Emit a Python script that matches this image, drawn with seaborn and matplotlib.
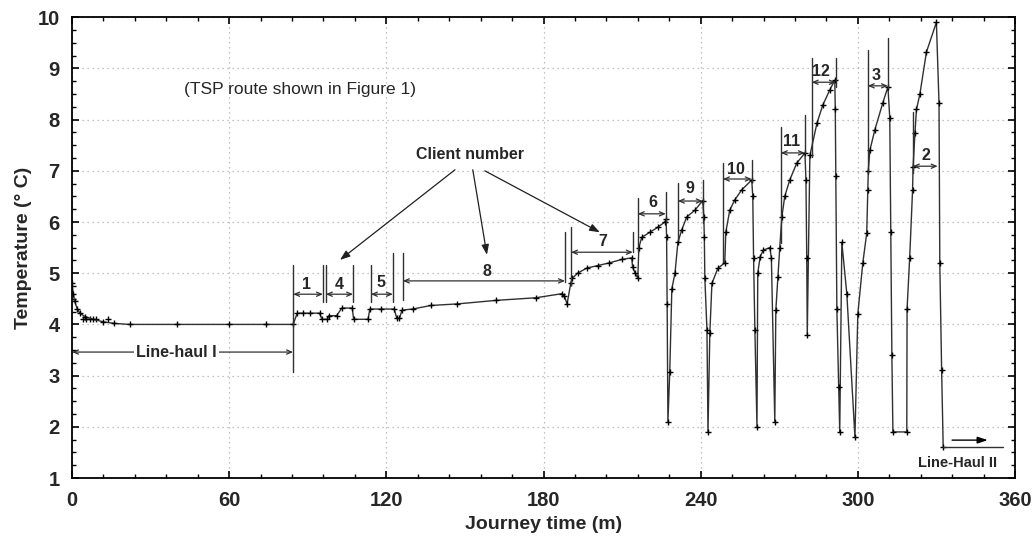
import matplotlib
matplotlib.use("Agg")
import matplotlib.pyplot as plt
from matplotlib.ticker import MultipleLocator
import seaborn as sns
import pandas as pd

# ---- data ----
time_min = [0, 0.5, 1, 2, 3, 5, 8, 12, 16, 22, 40, 60, 74, 84.4,
            86, 88, 91, 94.5, 95.4, 97.5, 98, 101, 103, 107, 107.5, 113, 113.7, 118, 123,
            124, 125, 126, 130, 137, 147, 162, 177, 187, 188, 189,
            190.4, 191, 193, 196.5, 200.8, 205, 210, 213.7, 214, 215, 216,
            216.4, 217.5, 220.6, 223.7, 226.3, 226.8,
            227.0, 227.2, 227.5,
            228.2, 229.0, 230.2, 231.3, 232.8, 234.7, 237.8, 240.8,
            241.2, 241.4, 241.6, 242.4, 242.8,
            243.5, 244.3, 246.6, 249.2, 249.6, 251.1, 253.0, 255.7, 259.5,
            259.9, 260.2, 260.7, 261.5,
            261.8, 262.7, 263.9, 266.4,
            267.0, 268.3,
            268.7, 269.5, 270.2, 271.0, 272.1, 274.0, 276.7, 279.8,
            280.2, 280.5, 280.7,
            281.7, 284.4, 286.6, 289.3, 291.2,
            291.4, 291.6, 292.0, 292.7, 293.1,
            293.9, 295.8, 298.9,
            300.0, 301.9, 303.4, 303.8, 304.0, 304.6, 306.5, 309.5, 311.5,
            312.2, 312.6, 313.0, 313.4,
            318.7,
            318.8, 319.8, 320.9, 321.1, 321.8, 322.4, 323.7, 326.2, 330.0,
            331.0, 331.3, 332.0, 332.6]
temp_c = [4.8, 4.6, 4.45, 4.3, 4.22, 4.15, 4.1, 4.05, 4.02, 4.0, 4.0, 4.0, 4.0, 4.0,
          4.22, 4.22, 4.22, 4.22, 4.1, 4.1, 4.17, 4.17, 4.32, 4.32, 4.1, 4.1, 4.3, 4.3, 4.3,
          4.12, 4.12, 4.28, 4.3, 4.37, 4.4, 4.47, 4.52, 4.6, 4.55, 4.4,
          4.8, 4.9, 5.0, 5.1, 5.15, 5.2, 5.27, 5.3, 5.12, 5.0, 4.9,
          5.5, 5.7, 5.8, 5.9, 6.0, 6.05,
          5.7, 4.4, 2.1,
          3.07, 4.7, 5.0, 5.6, 5.85, 6.1, 6.23, 6.42,
          6.1, 5.7, 4.9, 3.9, 1.9,
          3.83, 4.8, 5.1, 5.2, 5.8, 6.23, 6.43, 6.63, 6.82,
          6.5, 5.3, 3.9, 2.0,
          5.0, 5.32, 5.45, 5.5,
          5.3, 2.1,
          4.28, 4.93, 5.5, 6.1, 6.5, 6.82, 7.15, 7.35,
          6.82, 5.3, 3.8,
          7.3, 7.93, 8.28, 8.58, 8.77,
          8.2, 6.9, 4.3, 2.78, 1.9,
          5.6, 4.6, 1.8,
          4.2, 5.2, 5.78, 6.62, 7.0, 7.4, 7.8, 8.32, 8.64,
          8.03, 5.8, 3.4, 1.9,
          1.9,
          4.3, 5.3, 6.62, 7.07, 7.73, 8.2, 8.5, 9.32, 9.9,
          8.32, 5.2, 3.1, 1.6]

# stray readings off the curve near the start
stray_t = [4, 5.5, 7, 9, 13.7]
stray_T = [4.1, 4.1, 4.1, 4.1, 4.1]

# client brackets: label, left t, right t, left vertical (lo, hi), right vertical (lo, hi), arrow T, label (t, T)
client_labels = ["1", "4", "5", "8", "7", "6", "9", "10", "11", "12", "3", "2"]
left_t = [84.4, 96.9, 114.1, 126.3, 190.5, 216.0, 231.3, 248.5, 270.6, 282.4, 303.8, 321.0]
right_t = [95.8, 107.3, 122.5, 188.2, 214.1, 226.7, 240.8, 259.5, 279.8, 291.6, 311.5, 330.5]
left_lo = [4.44, 4.44, 4.44, 4.48, 4.77, 5.41, 5.65, 5.22, 5.59, 7.27, 6.96, 6.96]
left_hi = [5.16, 5.16, 5.16, 5.39, 5.90, 6.47, 6.76, 7.15, 7.85, 9.20, 9.36, 8.15]
right_lo = [4.44, 4.44, 4.44, 4.83, 5.41, 5.98, 5.98, 6.78, 7.35, 8.64, 8.62, 7.09]
right_hi = [5.16, 5.16, 5.39, 5.80, 5.80, 6.59, 6.82, 7.21, 8.09, 9.20, 9.59, 7.09]
arrow_T = [4.59, 4.59, 4.59, 4.85, 5.41, 6.16, 6.41, 6.84, 7.35, 8.73, 8.66, 7.09]
label_t = [89.6, 102.0, 117.9, 158.5, 202.8, 221.9, 235.9, 253.4, 274.7, 286.1, 307.1, 326.0]
label_T = [4.77, 4.77, 4.81, 5.03, 5.62, 6.38, 6.66, 7.03, 7.57, 8.94, 8.87, 7.29]

x_ticks = [0, 60, 120, 180, 240, 300, 360]
y_ticks = [1, 2, 3, 4, 5, 6, 7, 8, 9, 10]

df = pd.DataFrame({"Journey time (m)": time_min, "Temperature (° C)": temp_c})

sns.set_style("ticks")
plt.rcParams["font.family"] = ["Liberation Sans", "DejaVu Sans"]

fig = plt.figure(figsize=(10.32, 5.38), dpi=100)
ax = fig.add_axes([0.0698, 0.1115, 0.9137, 0.8565])

sns.lineplot(data=df, x="Journey time (m)", y="Temperature (° C)", ax=ax,
             sort=False, estimator=None, color="#303030", linewidth=1.0,
             marker="+", markersize=5, markeredgecolor="black", markeredgewidth=1.0)
sns.scatterplot(x=stray_t, y=stray_T, ax=ax, marker="+", s=25, color="black", linewidth=1.0)

ax.set_xlim(0, 360)
ax.set_ylim(1, 10)
ax.set_xticks(x_ticks)
ax.set_yticks(y_ticks)
ax.xaxis.set_minor_locator(MultipleLocator(12))
ax.yaxis.set_minor_locator(MultipleLocator(0.25))
ax.tick_params(which="both", direction="in", top=True, right=True, color="black")
ax.tick_params(which="major", length=5, width=1.2, labelsize=14.5, pad=9)
ax.tick_params(which="minor", length=3, width=1.0)
for lab in ax.get_xticklabels() + ax.get_yticklabels():
    lab.set_fontweight("bold")
ax.grid(True, which="major", linestyle=(0, (1, 3)), color="#b0b0b0", linewidth=0.9)
for sp in ax.spines.values():
    sp.set_linewidth(1.3)
    sp.set_color("black")

ax.set_xlabel("Journey time (m)", fontsize=14, fontweight="bold", labelpad=5)
ax.set_ylabel("Temperature (° C)", fontsize=14, fontweight="bold", labelpad=4)

lc = "#303030"
arrow_kw = dict(arrowstyle="<->,head_length=0.35,head_width=0.15", color=lc, lw=0.9,
                shrinkA=0, shrinkB=0)

# Line-haul I
ax.annotate("", xy=(0, 3.46), xytext=(84.4, 3.46), arrowprops=arrow_kw)
ax.plot([84.4, 84.4], [3.07, 4.44], color=lc, lw=1.0)
ax.text(40, 3.46, "Line-haul I", ha="center", va="center", fontsize=11.5,
        fontweight="bold", bbox=dict(facecolor="white", edgecolor="none", pad=1.5))

# client brackets
for i, lab in enumerate(client_labels):
    ax.plot([left_t[i], left_t[i]], [left_lo[i], left_hi[i]], color=lc, lw=1.0)
    ax.plot([right_t[i], right_t[i]], [right_lo[i], right_hi[i]], color=lc, lw=1.0)
    ax.annotate("", xy=(left_t[i], arrow_T[i]), xytext=(right_t[i], arrow_T[i]),
                arrowprops=arrow_kw)
    ax.text(label_t[i], label_T[i], lab, ha="center", va="center",
            fontsize=11.5, fontweight="bold")

# Line-Haul II
ax.plot([332.6, 355.3], [1.6, 1.6], color=lc, lw=1.0)
ax.annotate("", xy=(349.6, 1.74), xytext=(336.0, 1.74),
            arrowprops=dict(arrowstyle="-|>,head_length=0.6,head_width=0.2", color="black",
                            lw=1.0, shrinkA=0, shrinkB=0))
ax.text(338, 1.29, "Line-Haul II", ha="center", va="center", fontsize=10.5, fontweight="bold")

# free texts
ax.text(87, 8.58, "(TSP route shown in Figure 1)", ha="center", va="center", fontsize=12.5)
ax.text(151.9, 7.31, "Client number", ha="center", va="center", fontsize=11.5, fontweight="bold")
head_kw = dict(arrowstyle="-|>,head_length=0.6,head_width=0.22", color="#202020", lw=0.9,
               shrinkA=0, shrinkB=0)
ax.annotate("", xy=(102.3, 5.26), xytext=(146.2, 7.02), arrowprops=head_kw)
ax.annotate("", xy=(158.4, 5.36), xytext=(153.0, 7.02), arrowprops=head_kw)
ax.annotate("", xy=(201.5, 5.80), xytext=(157.6, 7.00), arrowprops=head_kw)

fig.savefig("out.png", dpi=100)
